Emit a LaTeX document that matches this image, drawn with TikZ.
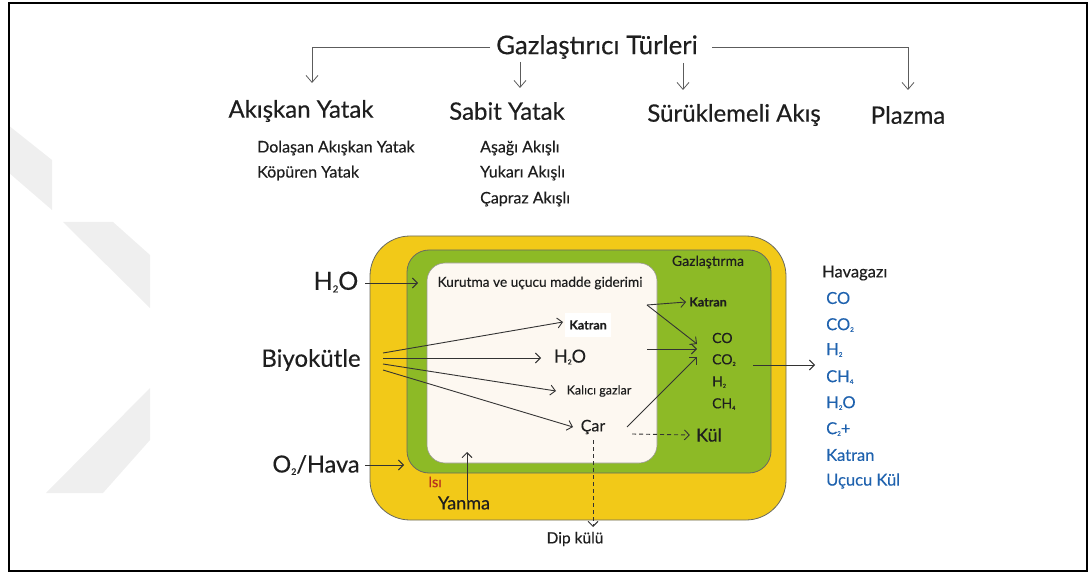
\documentclass[tikz,border=0pt]{standalone}
\usepackage{fontspec}
\setmainfont{Lato}[FakeBold=0.35]
\usetikzlibrary{arrows.meta}

\definecolor{ink}{HTML}{1E1E1E}
\definecolor{wire}{HTML}{333333}
\definecolor{outerY}{HTML}{F2C918}
\definecolor{midG}{HTML}{8DBA26}
\definecolor{coreC}{HTML}{FDF8F1}
\definecolor{rim}{HTML}{6A6A60}
\definecolor{gasblue}{HTML}{1F62AE}
\definecolor{heatred}{HTML}{B8321F}
\definecolor{wmgray}{HTML}{EFEFEF}

% tiny lowered index as used in the chemical formulas
\newcommand{\lowidx}[1]{\raisebox{-0.2ex}{\scalebox{0.38}{#1}}}
\newcommand{\fs}[1]{\fontsize{#1}{#1}\selectfont}

\tikzset{
  txt/.style={inner sep=0pt, text=ink},
  hbig/.style={txt, font=\fs{25.8}},
  hmid/.style={txt, font=\fs{24}},
  hsub/.style={txt, font=\fs{16}},
  flow/.style={draw=wire, line width=0.9pt, -{Straight Barb[length=5pt,width=10pt]}},
  treeln/.style={draw=wire!80, line width=0.8pt, -{Straight Barb[length=7pt,width=12pt]}},
  dflow/.style={flow, dashed, dash pattern=on 4pt off 3pt},
  gasitem/.style={txt, text=gasblue, font=\fs{16.5}, anchor=west},
}

\begin{document}
\begin{tikzpicture}[x=1pt, y=-1pt]
\useasboundingbox (0,0) rectangle (1089,577);

% faint watermark bands
\fill[wmgray] (8,125) -- (52,160) -- (52,210) -- (8,172) -- cycle;
\fill[wmgray] (63,222) -- (113,222) -- (150,255) -- (150,308) -- cycle;
\fill[wmgray] (150,388) -- (150,440) -- (103,493) -- (46,493) -- cycle;

% page frame
\draw[line width=2pt] (8.5,3) rectangle (1086.5,571);

% ---------- gasifier types tree ----------
\node[hbig] (title) at (597,47) {Gazlaştırıcı Türleri};
\node[hmid] (fb) at (301,111) {Akışkan Yatak};
\node[hmid] (sb) at (507,111) {Sabit Yatak};
\node[hmid] (ef) at (734,115) {Sürüklemeli Akış};
\node[hmid] (pl) at (908,115) {Plazma};

\node[hsub, anchor=west] (fb1) at (257,148) {Dolaşan Akışkan Yatak};
\node[hsub, anchor=west] (fb2) at (257,173) {Köpüren Yatak};
\node[hsub, anchor=west] (sb1) at (480,148) {Aşağı Akışlı};
\node[hsub, anchor=west] (sb2) at (480,173) {Yukarı Akışlı};
\node[hsub, anchor=west] (sb3) at (480,199) {Çapraz Akışlı};

\coordinate (tl) at (490,47);
\coordinate (tr) at (712,47);
\coordinate (fbtip) at (312,83);
\coordinate (pltip) at (908,90);
\coordinate (sbtop) at (520,62);
\coordinate (sbtip) at (520,88);
\coordinate (eftop) at (683,63);
\coordinate (eftip) at (683,90);
\draw[treeln] (tl) -| (fbtip);
\draw[treeln] (tr) -| (pltip);
\draw[treeln] (sbtop) -- (sbtip);
\draw[treeln] (eftop) -- (eftip);

% ---------- gasifier zones ----------
\draw[fill=outerY, draw=rim, line width=0.8pt, rounded corners=40pt]
  (370,236) rectangle (786,520);
\draw[fill=midG, draw=rim, line width=0.8pt, rounded corners=22pt]
  (407,250) rectangle (771,473);
\draw[fill=coreC, draw=rim!70, line width=0.6pt, rounded corners=18pt]
  (427,263) rectangle (657,463);

\node[txt, font=\fs{14}] (gzl) at (708,262) {Gazlaştırma};
\node[txt, font=\fs{13.7}] (dry) at (540,283) {Kurutma ve uçucu madde giderimi};

% feeds
\node[txt, font=\fs{25}] (h2o) at (336,282) {H\lowidx{2}O};
\node[txt, font=\fs{24}] (bio) at (311,360) {Biyokütle};
\node[txt, font=\fs{23.5}] (o2) at (316,465) {O\lowidx{2}/Hava};

\coordinate (h2oin) at (418,283);
\coordinate (o2in) at (404,465);
\coordinate (h2os) at (365,283);
\coordinate (o2s) at (365,465);
\draw[flow] (h2os) -- (h2oin);
\draw[flow] (o2s) -- (o2in);

% drying / devolatilisation products
\node[txt, font=\bfseries\fs{12.5}, fill=white, inner xsep=4pt, inner ysep=7.5pt] (tar1) at (588,325) {Katran};
\node[txt, font=\fs{18}] (wat) at (570,357) {H\lowidx{2}O};
\node[txt, font=\fs{12.5}] (pgas) at (599,391) {Kalıcı gazlar};
\node[txt, font=\fs{16}] (char) at (593,427) {Çar};

\coordinate (b1) at (383,353);
\coordinate (b2) at (383,358);
\coordinate (b3) at (383,364);
\coordinate (b4) at (383,370);
\draw[flow] (b1) -- (563,322);
\draw[flow] (b2) -- (541,358);
\draw[flow] (b3) -- (556,391);
\draw[flow] (b4) -- (573,427);

% gasification products
\node[txt, font=\bfseries\fs{12.5}] (tar2) at (708,302) {Katran};
\node[txt, font=\fs{14}, anchor=west] (co) at (712,338) {CO};
\node[txt, font=\fs{14}, anchor=west] (co2) at (712,360) {CO\lowidx{2}};
\node[txt, font=\fs{14}, anchor=west] (h2) at (712,382) {H\lowidx{2}};
\node[txt, font=\fs{14}, anchor=west] (ch4) at (712,404) {CH\lowidx{4}};
\node[txt, font=\fs{18}] (kul) at (709,435) {Kül};

\coordinate (vo) at (647,305);
\coordinate (wo) at (647,349);
\coordinate (charout) at (627,427);
\coordinate (ashout) at (632,434);
\draw[flow] (vo) -- ([xshift=-3pt]tar2.west);
\draw[flow] (vo) -- (697,344);
\draw[flow] (wo) -- (697,349);
\draw[flow] (charout) -- (697,357);
\draw[dflow] (ashout) -- ([xshift=-6pt]kul.west);

% bottom ash
\node[txt, font=\fs{15.5}] (dip) at (575,539) {Dip külü};
\coordinate (ashtop) at (593,440);
\draw[dflow] (ashtop) -- (593,527);

% combustion
\node[txt, text=heatred, font=\fs{14.5}] (isi) at (435,482) {Isı};
\node[txt, font=\fs{18}] (yan) at (464,503) {Yanma};
\coordinate (heatup) at (467,452);
\draw[flow] ([yshift=-4pt]yan.north -| heatup) -- (heatup);

% product gas
\coordinate (gout) at (753,365);
\coordinate (gin) at (815,365);
\draw[flow] (gout) -- (gin);
\node[txt, font=\fs{16.5}, anchor=west] (hg) at (822,273) {Havagazı};
\node[gasitem] (g1) at (826,298) {CO};
\node[gasitem] (g2) at (826,325) {CO\lowidx{2}};
\node[gasitem] (g3) at (826,350) {H\lowidx{2}};
\node[gasitem] (g4) at (826,377) {CH\lowidx{4}};
\node[gasitem] (g5) at (826,403) {H\lowidx{2}O};
\node[gasitem] (g6) at (826,429) {C\lowidx{2}+};
\node[gasitem] (g7) at (826,455) {Katran};
\node[gasitem] (g8) at (826,481) {Uçucu Kül};
\end{tikzpicture}
\end{document}
